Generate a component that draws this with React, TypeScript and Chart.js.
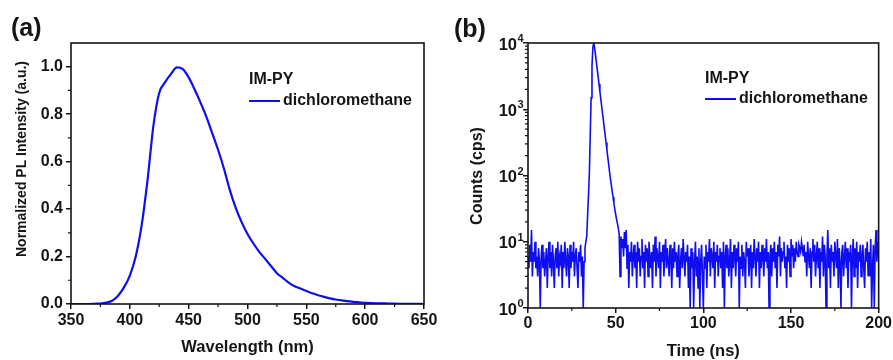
import React, { useEffect, useRef } from 'react';
import { Chart, registerables } from 'chart.js';

Chart.register(...registerables);

// ---------- Panel (a): PL spectrum ----------
const wavelengths = [
  350, 355, 360, 365, 370, 375, 380, 385, 390, 395,
  400, 405, 410, 415, 420, 425, 430, 435, 440, 445,
  450, 455, 460, 465, 470, 475, 480, 485, 490, 495,
  500, 505, 510, 515, 520, 525, 530, 535, 540, 545,
  550, 555, 560, 565, 570, 575, 580, 585, 590, 595,
  600, 610, 620, 630, 640, 650,
];
const plIntensity = [
  0, 0, 0, 0, 0.001, 0.002, 0.006, 0.014, 0.035, 0.07,
  0.12, 0.2, 0.33, 0.52, 0.75, 0.89, 0.935, 0.97, 0.997, 0.99,
  0.955, 0.905, 0.85, 0.79, 0.72, 0.65, 0.57, 0.48, 0.405, 0.345,
  0.295, 0.255, 0.22, 0.19, 0.16, 0.13, 0.11, 0.09, 0.075, 0.065,
  0.055, 0.045, 0.037, 0.03, 0.024, 0.019, 0.015, 0.012, 0.009, 0.007,
  0.005, 0.003, 0.002, 0.001, 0.001, 0,
];
const xTicksA = [350, 400, 450, 500, 550, 600, 650];
const xMinorA = [375, 425, 475, 525, 575, 625];
const yTicksA = [0, 0.2, 0.4, 0.6, 0.8, 1.0];
const yMinorA = [0.1, 0.3, 0.5, 0.7, 0.9];

// ---------- Panel (b): TRPL decay ----------
const timeStepNs = 0.5;
const decayCounts = [
  // 0 - 9.5 ns
  6, 4, 9, 5, 15, 3, 7, 5, 10, 4, 6, 3, 8, 5, 1, 6, 9, 4, 7, 3,
  // 10 - 19.5 ns
  5, 8, 2, 6, 10, 4, 7, 3, 9, 5, 2, 6, 8, 4, 10, 3, 6, 5, 9, 2,
  // 20 - 29.5 ns
  7, 4, 10, 5, 3, 8, 6, 2, 9, 4, 7, 5, 10, 3, 6, 8, 4, 2, 7, 5,
  // 30 - 33 ns
  9, 3, 6, 1, 5, 8, 10,
  // 33.5 - 55 ns : rise, peak and decay
  12, 25, 50, 110, 400, 1500, 4500, 8500, 10000, 8500,
  6600, 5100, 4000, 3100, 2400, 1860, 1450, 1120, 870, 680,
  520, 410, 316, 245, 190, 148, 115, 90, 72, 58,
  47, 38, 31, 26, 22, 19, 16, 13, 3, 12,
  8, 11, 6, 14,
  // 55.5 - 60 ns
  8, 15, 4, 9, 2, 7, 5, 10, 3, 6,
  // 60.5 - 70
  9, 4, 7, 2, 10, 5, 8, 3, 6, 11, 4, 7, 2, 9, 5, 8, 3, 10, 6, 4,
  // 70.5 - 80
  7, 2, 9, 5, 12, 3, 8, 6, 4, 10, 2, 7, 5, 9, 3, 6, 11, 4, 8, 5,
  // 80.5 - 90
  3, 9, 6, 2, 8, 4, 10, 5, 7, 3, 6, 9, 2, 5, 8, 4, 11, 6, 3, 7,
  // 90.5 - 100
  5, 9, 2, 6, 1, 8, 4, 7, 1, 5, 10, 3, 6, 2, 8, 1, 5, 9, 3, 1,
  // 100.5 - 110
  6, 4, 9, 2, 7, 5, 11, 3, 8, 6, 4, 10, 2, 7, 5, 9, 3, 6, 8, 4,
  // 110.5 - 120
  7, 2, 10, 1, 6, 9, 4, 8, 3, 5, 11, 2, 7, 4, 9, 6, 3, 8, 5, 10,
  // 120.5 - 130
  1, 6, 4, 9, 3, 7, 5, 2, 10, 6, 8, 3, 5, 9, 2, 7, 4, 11, 6, 3,
  // 130.5 - 140
  8, 5, 10, 2, 7, 4, 9, 6, 3, 8, 5, 11, 4, 7, 1, 6, 9, 3, 8, 5,
  // 140.5 - 150
  10, 4, 7, 2, 9, 6, 12, 3, 8, 5, 7, 10, 4, 6, 2, 9, 5, 8, 3, 11,
  // 150.5 - 160
  6, 9, 4, 8, 5, 10, 7, 6, 9, 8, 7, 10, 8, 6, 9, 5, 7, 3, 10, 6,
  // 160.5 - 170
  4, 8, 2, 7, 11, 5, 9, 3, 6, 10, 4, 8, 2, 7, 5, 12, 3, 9, 6, 1,
  // 170.5 - 180
  6, 15, 4, 8, 2, 9, 5, 7, 3, 10, 6, 4, 11, 2, 8, 5, 1, 7, 9, 3,
  // 180.5 - 190
  6, 10, 4, 8, 2, 7, 5, 9, 1, 6, 11, 3, 8, 4, 10, 2, 7, 5, 9, 3,
  // 190.5 - 200
  6, 9, 4, 2, 8, 5, 10, 3, 7, 3, 11, 1, 4, 9, 1, 8, 15, 5, 10, 7,
];
const xTicksB = [0, 50, 100, 150, 200];
const xMinorB = [25, 75, 125, 175];
const yDecadesB = [1, 10, 100, 1000, 10000];

// ---------- styling ----------
const FONT = "'Liberation Sans', Arial, sans-serif";
const INK = '#151515';
const BLUE = 'rgb(14, 14, 240)';

function drawFrame(chart: any, minorX: number[], minorY: number[]) {
  const { ctx, chartArea } = chart;
  const { left, top, right, bottom } = chartArea;
  const xs = chart.scales.x;
  const ys = chart.scales.y;
  ctx.save();
  ctx.strokeStyle = INK;
  ctx.lineWidth = 1.6;
  ctx.strokeRect(left, top, right - left, bottom - top);
  ctx.lineWidth = 1.2;
  ctx.beginPath();
  minorX.forEach((v) => {
    const px = xs.getPixelForValue(v);
    ctx.moveTo(px, bottom);
    ctx.lineTo(px, bottom + 3);
  });
  minorY.forEach((v) => {
    const py = ys.getPixelForValue(v);
    ctx.moveTo(left, py);
    ctx.lineTo(left - 3, py);
  });
  ctx.stroke();
  ctx.restore();
}

function drawText(ctx: any, text: string, x: number, y: number, size: number, align = 'left', rotate = false) {
  ctx.save();
  ctx.fillStyle = INK;
  ctx.font = `bold ${size}px ${FONT}`;
  ctx.textAlign = align;
  ctx.textBaseline = 'middle';
  ctx.translate(x, y);
  if (rotate) ctx.rotate(-Math.PI / 2);
  ctx.fillText(text, 0, 0);
  ctx.restore();
}

function drawLegend(ctx: any, x: number, yTitle: number, yLine: number) {
  drawText(ctx, 'IM-PY', x, yTitle, 16);
  ctx.save();
  ctx.strokeStyle = BLUE;
  ctx.lineWidth = 2;
  ctx.beginPath();
  ctx.moveTo(x, yLine);
  ctx.lineTo(x + 31, yLine);
  ctx.stroke();
  ctx.restore();
  drawText(ctx, 'dichloromethane', x + 34, yLine, 16);
}

const panelAPlugin = {
  id: 'panelA',
  afterDraw(chart: any) {
    const { ctx, chartArea } = chart;
    drawFrame(chart, xMinorA, yMinorA);
    drawText(ctx, '(a)', 11, 29, 25);
    drawText(ctx, 'Normalized PL Intensity (a.u.)', 22, 159, 14, 'center', true);
    drawText(ctx, 'Wavelength (nm)', (chartArea.left + chartArea.right) / 2, 347, 16.5, 'center');
    drawLegend(ctx, 249, 80, 101);
  },
};

const panelBPlugin = {
  id: 'panelB',
  afterDraw(chart: any) {
    const { ctx, chartArea } = chart;
    const ys = chart.scales.y;
    const minorY: number[] = [];
    for (let d = 1; d < 10000; d *= 10) {
      for (let m = 2; m <= 9; m++) minorY.push(d * m);
    }
    drawFrame(chart, xMinorB, minorY);
    // log tick labels 10^n
    yDecadesB.forEach((v, i) => {
      const py = ys.getPixelForValue(v);
      drawText(ctx, '10', 71, py + 2, 16.5, 'right');
      drawText(ctx, String(i), 71.5, py - 4, 11, 'left');
    });
    drawText(ctx, '(b)', 8, 30, 25);
    drawText(ctx, 'Counts (cps)', 32, 176, 16, 'center', true);
    drawText(ctx, 'Time (ns)', (chartArea.left + chartArea.right) / 2, 351, 16.5, 'center');
    drawLegend(ctx, 259, 79, 99);
  },
};

const tickFont = { family: FONT, size: 16, weight: 'bold' as const };

function makeChartA(canvas: HTMLCanvasElement) {
  return new Chart(canvas, {
    type: 'line',
    data: {
      datasets: [
        {
          data: wavelengths.map((w, i) => ({ x: w, y: plIntensity[i] })),
          borderColor: BLUE,
          borderWidth: 2.2,
          pointRadius: 0,
          cubicInterpolationMode: 'monotone',
          fill: false,
        },
      ],
    },
    options: {
      responsive: false,
      animation: false,
      events: [],
      layout: { padding: { left: 0, right: 22, top: 43, bottom: 0 } },
      plugins: { legend: { display: false }, tooltip: { enabled: false } },
      scales: {
        x: {
          type: 'linear',
          min: 350,
          max: 650,
          afterBuildTicks: (s: any) => {
            s.ticks = xTicksA.map((v) => ({ value: v }));
          },
          afterFit: (s: any) => {
            s.height = 56;
          },
          ticks: { font: tickFont, color: INK, padding: 2, maxRotation: 0, autoSkip: false },
          grid: { display: true, drawOnChartArea: false, drawTicks: true, tickLength: 5, color: INK, lineWidth: 1.5 },
          border: { display: false },
          title: { display: false },
        },
        y: {
          type: 'linear',
          min: 0,
          max: 1.1,
          afterBuildTicks: (s: any) => {
            s.ticks = yTicksA.map((v) => ({ value: v }));
          },
          afterFit: (s: any) => {
            s.width = 71;
          },
          ticks: {
            font: tickFont,
            color: INK,
            padding: 3,
            autoSkip: false,
            callback: (v: any) => Number(v).toFixed(1),
          },
          grid: { display: true, drawOnChartArea: false, drawTicks: true, tickLength: 5, color: INK, lineWidth: 1.5 },
          border: { display: false },
          title: { display: false },
        },
      },
    },
    plugins: [panelAPlugin],
  } as any);
}

function makeChartB(canvas: HTMLCanvasElement) {
  return new Chart(canvas, {
    type: 'line',
    data: {
      datasets: [
        {
          data: decayCounts.map((c, i) => ({ x: i * timeStepNs, y: c })),
          borderColor: BLUE,
          borderWidth: 1.6,
          pointRadius: 0,
          tension: 0,
          fill: false,
        },
      ],
    },
    options: {
      responsive: false,
      animation: false,
      events: [],
      layout: { padding: { left: 0, right: 13, top: 43, bottom: 0 } },
      plugins: { legend: { display: false }, tooltip: { enabled: false } },
      scales: {
        x: {
          type: 'linear',
          min: 0,
          max: 200,
          afterBuildTicks: (s: any) => {
            s.ticks = xTicksB.map((v) => ({ value: v }));
          },
          afterFit: (s: any) => {
            s.height = 52;
          },
          ticks: { font: tickFont, color: INK, padding: 1, maxRotation: 0, autoSkip: false },
          grid: { display: true, drawOnChartArea: false, drawTicks: true, tickLength: 5, color: INK, lineWidth: 1.5 },
          border: { display: false },
          title: { display: false },
        },
        y: {
          type: 'logarithmic',
          min: 1,
          max: 10000,
          afterBuildTicks: (s: any) => {
            s.ticks = yDecadesB.map((v) => ({ value: v }));
          },
          afterFit: (s: any) => {
            s.width = 82;
          },
          ticks: { display: false },
          grid: { display: true, drawOnChartArea: false, drawTicks: true, tickLength: 5, color: INK, lineWidth: 1.5 },
          border: { display: false },
          title: { display: false },
        },
      },
    },
    plugins: [panelBPlugin],
  } as any);
}

export default function App() {
  const refA = useRef<HTMLCanvasElement | null>(null);
  const refB = useRef<HTMLCanvasElement | null>(null);

  useEffect(() => {
    const a = refA.current ? makeChartA(refA.current) : null;
    const b = refB.current ? makeChartB(refB.current) : null;
    return () => {
      if (a) a.destroy();
      if (b) b.destroy();
    };
  }, []);

  return (
    <div style={{ position: 'fixed', left: 0, top: 0, width: 893, height: 360, background: '#fff' }}>
      <canvas ref={refA} width={446} height={360} style={{ position: 'absolute', left: 0, top: 0 }} />
      <canvas ref={refB} width={447} height={360} style={{ position: 'absolute', left: 446, top: 0 }} />
    </div>
  );
}
